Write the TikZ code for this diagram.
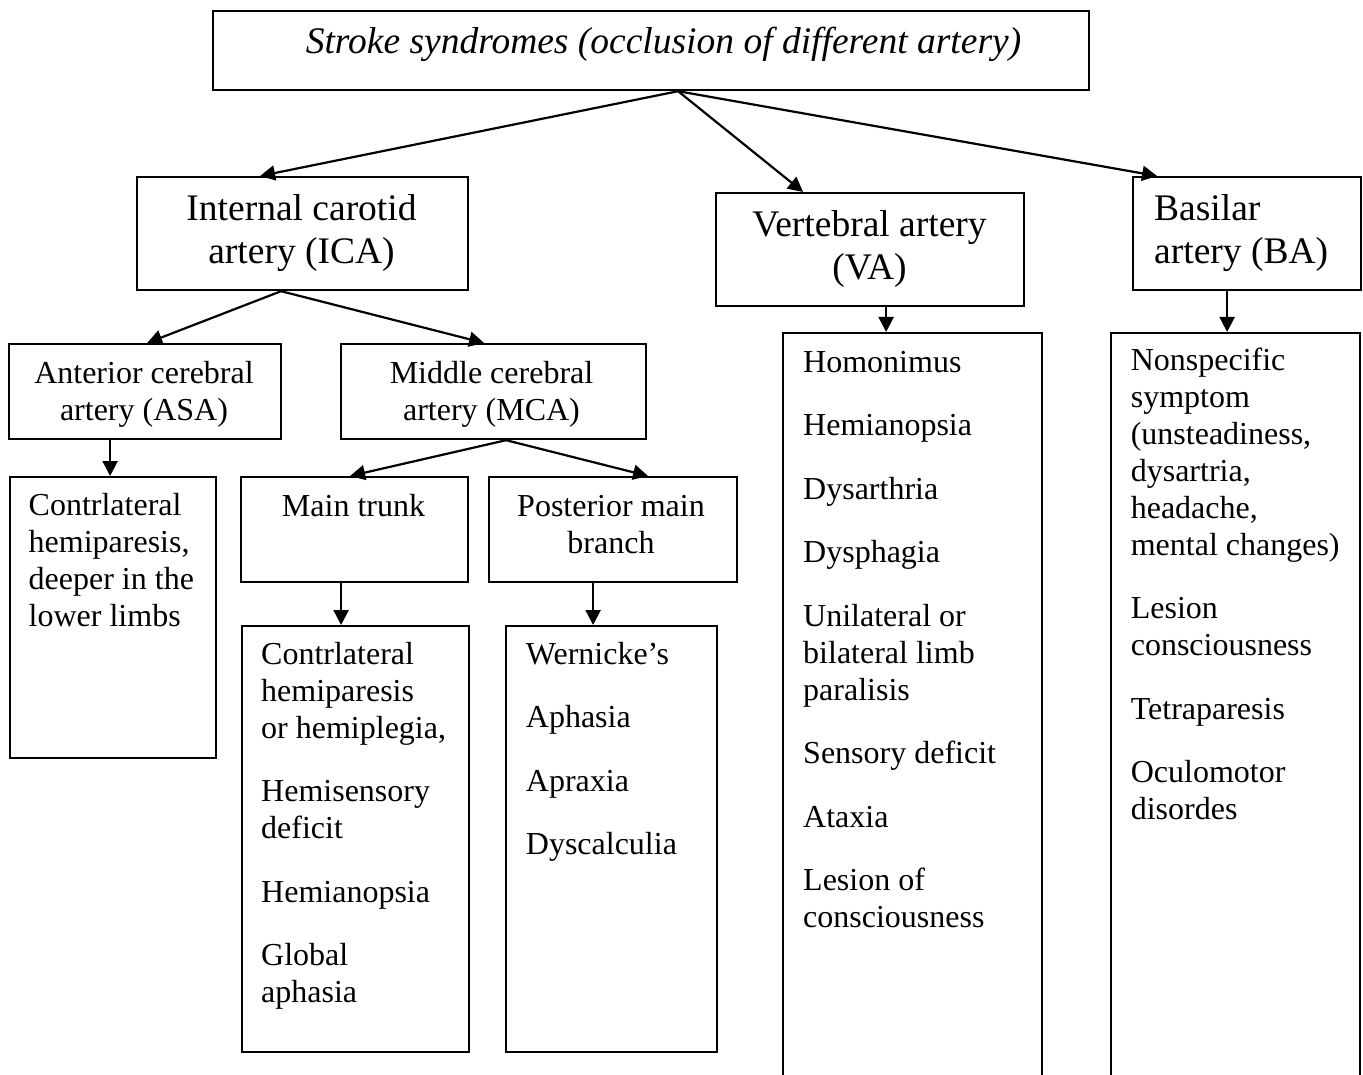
\documentclass[tikz,border=0pt]{standalone}
\usepackage{fontspec}
\setmainfont{Liberation Serif}
\usetikzlibrary{arrows.meta}

\tikzset{
  box/.style={draw, line width=2.2pt, inner sep=0pt, anchor=north west},
  body/.style={font=\fontsize{32}{37}\selectfont, inner sep=0pt},
  big/.style={font=\fontsize{37.5}{43.3}\selectfont, inner sep=0pt},
  arr/.style={-{Triangle[length=15pt,width=15pt]}, line width=2.2pt},
}

\begin{document}
\begin{tikzpicture}[x=1pt, y=-1pt]
\useasboundingbox (0,0) rectangle (1363,1075);
\clip (0,0) rectangle (1363,1075);
\fill[white] (0,0) rectangle (1363,1075);

% ---- boxes ----
\node[box, minimum width=876, minimum height=79]  (title) at (212,10)  {};
\node[box, minimum width=331, minimum height=113] (ica)   at (136,176) {};
\node[box, minimum width=308, minimum height=113] (va)    at (715,192) {};
\node[box, minimum width=228, minimum height=113] (ba)    at (1132,176) {};
\node[box, minimum width=272, minimum height=95]  (asa)   at (8,343)   {};
\node[box, minimum width=305, minimum height=95]  (mca)   at (340,343) {};
\node[box, minimum width=206, minimum height=281] (asal)  at (9,476)   {};
\node[box, minimum width=227, minimum height=105] (mt)    at (240,476) {};
\node[box, minimum width=248, minimum height=105] (pb)    at (488,476) {};
\node[box, minimum width=227, minimum height=426] (mtl)   at (241,625) {};
\node[box, minimum width=211, minimum height=426] (pbl)   at (505,625) {};
\node[box, minimum width=259, minimum height=770] (val)   at (782,332) {};
\node[box, minimum width=249, minimum height=770] (bal)   at (1110,332) {};

% ---- texts ----
\node[inner sep=0pt, anchor=base, font=\fontsize{37.5}{43.3}\selectfont\itshape] (title-t) at (663.5,53.3)
  {Stroke syndromes (occlusion of different artery)};
\node[big, anchor=north, align=center] (ica-t) at (301.5,189.7)
  {\strut Internal carotid\\artery (ICA)};
\node[big, anchor=north, align=center] (va-t) at (869.5,205.7)
  {\strut Vertebral artery\\(VA)};
\node[big, anchor=north west, align=left] (ba-t) at (1154,189.7)
  {\strut Basilar\\artery (BA)};

\node[body, anchor=north, align=center] (asa-t) at (144,357.1)
  {\strut Anterior cerebral\\artery (ASA)};
\node[body, anchor=north, align=center] (mca-t) at (491.5,357.1)
  {\strut Middle cerebral\\artery (MCA)};
\node[body, anchor=base] (mt-t) at (353.5,516.7) {Main trunk};
\node[body, anchor=north, align=center] (pb-t) at (611,490.8)
  {\strut Posterior main\\branch};

\node[body, anchor=north west, align=left] (asal-t) at (28.5,489.8)
  {\strut Contrlateral\\hemiparesis,\\deeper in the\\lower limbs};
\node[body, anchor=north west, align=left] (mtl-t) at (261,638.1)
  {\strut Contrlateral\\hemiparesis\\or hemiplegia,\\[26.5pt]
   Hemisensory\\deficit\\[26.5pt]
   Hemianopsia\\[26.5pt]
   Global\\aphasia};
\node[body, anchor=north west, align=left] (pbl-t) at (525.7,638.1)
  {\strut Wernicke’s\\[26.5pt]
   Aphasia\\[26.5pt]
   Apraxia\\[26.5pt]
   Dyscalculia};
\node[body, anchor=north west, align=left] (val-t) at (803,346.1)
  {\strut Homonimus\\[26.5pt]
   Hemianopsia\\[26.5pt]
   Dysarthria\\[26.5pt]
   Dysphagia\\[26.5pt]
   Unilateral or\\bilateral limb\\paralisis\\[26.5pt]
   Sensory deficit\\[26.5pt]
   Ataxia\\[26.5pt]
   Lesion of\\consciousness};
\node[body, anchor=north west, align=left] (bal-t) at (1130.6,344.1)
  {\strut Nonspecific\\symptom\\(unsteadiness,\\dysartria,\\headache,\\mental changes)\\[26.5pt]
   Lesion\\consciousness\\[26.5pt]
   Tetraparesis\\[26.5pt]
   Oculomotor\\disordes};

% ---- connectors ----
\draw[arr] ([xshift=27pt]title.south) -- ([xshift=-42.5pt]ica.north);
\draw[arr] ([xshift=27pt]title.south) -- ([xshift=-67pt]va.north);
\draw[arr] ([xshift=27pt]title.south) -- ([xshift=-90pt]ba.north);

\draw[arr] ([xshift=-21.5pt]ica.south) -- ([xshift=2pt]asa.north);
\draw[arr] ([xshift=-21.5pt]ica.south) -- ([xshift=-9.5pt]mca.north);

\draw[arr] ([xshift=12.5pt]mca.south) -- ([xshift=-4.5pt]mt.north);
\draw[arr] ([xshift=12.5pt]mca.south) -- ([xshift=35pt]pb.north);

\draw[arr] ([xshift=-35pt]asa.south) coordinate (s1) -- (s1 |- asal.north);
\draw[arr] ([xshift=-13.5pt]mt.south) coordinate (s2) -- (s2 |- mtl.north);
\draw[arr] ([xshift=-20pt]pb.south) coordinate (s3) -- (s3 |- pbl.north);
\draw[arr] ([xshift=16pt]va.south) coordinate (s4) -- (s4 |- val.north);
\draw[arr] ([xshift=-20pt]ba.south) coordinate (s5) -- (s5 |- bal.north);
\end{tikzpicture}
\end{document}
